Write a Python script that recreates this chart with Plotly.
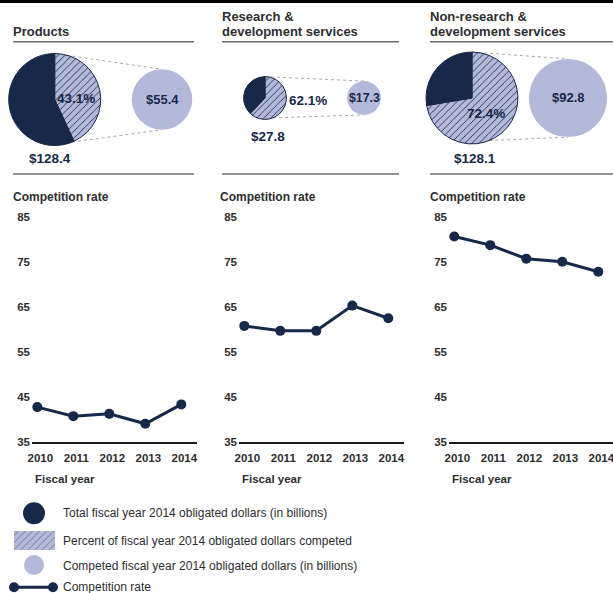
import math
import plotly.graph_objects as go

W, H = 613, 593

# ---- data -------------------------------------------------------------
panel_titles = [["Products"],
                ["Research &", "development services"],
                ["Non-research &", "development services"]]
total_obligated = [128.4, 27.8, 128.1]      # FY2014 obligated dollars, billions
competed_pct = [43.1, 62.1, 72.4]           # percent of obligated dollars competed
competed_dollars = [55.4, 17.3, 92.8]       # FY2014 competed dollars, billions

years = [2010, 2011, 2012, 2013, 2014]
rate_products = [42.8, 40.8, 41.3, 39.1, 43.4]
rate_rnd = [60.8, 59.7, 59.7, 65.3, 62.5]
rate_non_rnd = [80.6, 78.7, 75.7, 75.0, 72.8]
rates = [rate_products, rate_rnd, rate_non_rnd]
rate_ticks = [35, 45, 55, 65, 75, 85]

legend_labels = [
    "Total fiscal year 2014 obligated dollars (in billions)",
    "Percent of fiscal year 2014 obligated dollars competed",
    "Competed fiscal year 2014 obligated dollars (in billions)",
    "Competition rate",
]

# ---- styling ----------------------------------------------------------
NAVY = "#172848"
LAVENDER = "#b5b9d9"
TEXT = "#2e2e2e"
RULE = "#6e6e6e"
FONT = "Liberation Sans, Arial, sans-serif"


def fx(x):
    return x / W


def fy(y):
    return 1 - y / H


fig = go.Figure()

# ---- pies (areas scaled together through a shared scalegroup) ---------
R_MAX = 46
big_cx = [54.7, 265, 472]
small_cx = [162, 364, 568]
pie_cy = [99.5, 98, 98]


def pie_domain(cx, cy):
    hx = min(R_MAX, cx, W - cx)
    return dict(x=[fx(cx - hx), fx(cx + hx)], y=[fy(cy + R_MAX), fy(cy - R_MAX)])


for i in range(3):
    tot = total_obligated[i]
    pct = competed_pct[i]
    fig.add_trace(go.Pie(
        values=[tot * pct / 100, tot * (1 - pct / 100)],
        sort=False, direction="clockwise", rotation=0,
        scalegroup="dollars", textinfo="none", hoverinfo="skip",
        showlegend=False,
        marker=dict(colors=[LAVENDER, NAVY],
                    line=dict(color=NAVY, width=1),
                    pattern=dict(shape=["/", ""], fgcolor=NAVY,
                                 bgcolor=[LAVENDER, NAVY],
                                 size=5, solidity=0.17)),
        domain=pie_domain(big_cx[i], pie_cy[i]),
    ))
    fig.add_trace(go.Pie(
        values=[competed_dollars[i]],
        sort=False, scalegroup="dollars", textinfo="none", hoverinfo="skip",
        showlegend=False,
        marker=dict(colors=[LAVENDER], line=dict(width=0)),
        domain=pie_domain(small_cx[i], pie_cy[i]),
    ))

# connector lines between each pie and its competed-dollars circle
k = R_MAX / math.sqrt(max(total_obligated + competed_dollars))
shapes = []
for i in range(3):
    r1 = k * math.sqrt(total_obligated[i])
    r2 = k * math.sqrt(competed_dollars[i])
    cy = pie_cy[i]
    a = math.radians(22)
    for (x0, y0, x1, y1) in [
        (big_cx[i], cy - r1, small_cx[i], cy - r2),
        (big_cx[i] + r1 * math.sin(a), cy + r1 * math.cos(a), small_cx[i], cy + r2),
    ]:
        shapes.append(dict(type="line", xref="paper", yref="paper",
                           x0=fx(x0), y0=fy(y0), x1=fx(x1), y1=fy(y1),
                           line=dict(color="#a8a8a8", width=1, dash="3px,3px"),
                           layer="below"))

# ---- rules ------------------------------------------------------------
shapes.append(dict(type="rect", xref="paper", yref="paper",
                   x0=0, x1=1, y0=fy(3), y1=1, fillcolor="#000", line_width=0))
rule_x = [(13, 194), (222, 399), (430, 613)]
for (a0, a1) in rule_x:
    for yy in (41.7, 174):
        shapes.append(dict(type="line", xref="paper", yref="paper",
                           x0=fx(a0), x1=fx(a1), y0=fy(yy), y1=fy(yy),
                           line=dict(color=RULE, width=1.6)))

annotations = []


def note(text, x, y, size, color=TEXT, bold=True, xanchor="left", yanchor="middle"):
    annotations.append(dict(text=text, x=fx(x), y=fy(y), xref="paper", yref="paper",
                            xanchor=xanchor, yanchor=yanchor, showarrow=False,
                            align="left", borderpad=0, borderwidth=0,
                            font=dict(family=FONT, size=size, color=color,
                                      weight="bold" if bold else "normal")))


# panel titles, one annotation per line
title_left = [13, 222, 430]
for i, lines in enumerate(panel_titles):
    base = 31.5
    for j, line in enumerate(reversed(lines)):
        note(line, title_left[i], base - 15 * j, 13)

# pie labels
pct_pos = [(76, 98.3), (307.5, 100), (486, 113)]
tot_pos = [(50, 158), (268, 137), (474.5, 158)]
comp_size = [13, 12.3, 13]
for i in range(3):
    note(f"{competed_pct[i]:.1f}%", *pct_pos[i], 13.5, color=NAVY, xanchor="center")
    note(f"${total_obligated[i]:.1f}", *tot_pos[i], 13.5, color=NAVY, xanchor="center")
    note(f"${competed_dollars[i]:.1f}", small_cx[i], pie_cy[i], comp_size[i],
         color=NAVY, xanchor="center")

# ---- competition-rate line charts ------------------------------------
x_domains = [(32, 197), (239, 404), (449, 613)]
PX_PER_YEAR = 36
x_start = 2010 - 5.3 / PX_PER_YEAR
y_dom = [fy(442.3), fy(216.7)]

layout_axes = {}
for i in range(3):
    n = "" if i == 0 else str(i + 1)
    fig.add_trace(go.Scatter(
        x=years, y=rates[i], mode="lines+markers",
        line=dict(color=NAVY, width=3),
        marker=dict(color=NAVY, size=10),
        xaxis="x" + n, yaxis="y" + n, showlegend=False, hoverinfo="skip",
        cliponaxis=False,
    ))
    d0, d1 = x_domains[i]
    layout_axes["xaxis" + n] = dict(
        domain=[fx(d0), fx(d1)], anchor="y" + n,
        range=[x_start, x_start + (d1 - d0) / PX_PER_YEAR],
        tickvals=years, ticktext=[str(y) for y in years],
        showline=True, linecolor="#1a1a1a", linewidth=2,
        showgrid=False, zeroline=False, ticks="", automargin=False,
        ticklabelstandoff=4, ticklabelshift=3, ticklabeloverflow="allow",
        tickfont=dict(family=FONT, size=11.5, color=TEXT, weight="bold"),
    )
    layout_axes["yaxis" + n] = dict(
        domain=y_dom, anchor="x" + n, range=[35, 85],
        tickvals=rate_ticks, showline=False, showgrid=False,
        zeroline=False, ticks="", automargin=False, ticklabelstandoff=1,
        tickfont=dict(family=FONT, size=11.5, color=TEXT, weight="bold"),
    )
    note("Competition rate", d0 - 19, 196.7, 12)
    note("Fiscal year", d0 + 3, 479, 11.5)

# ---- key --------------------------------------------------------------
KEY = dict(xaxis="x4", yaxis="y4", showlegend=False, hoverinfo="skip", cliponaxis=False)
fig.add_trace(go.Scatter(x=[34], y=[513.3], mode="markers",
                         marker=dict(color=NAVY, size=22), **KEY))
fig.add_trace(go.Scatter(x=[14, 55, 55, 14, 14], y=[531, 531, 550, 550, 531],
                         mode="lines", fill="toself", fillcolor=LAVENDER,
                         fillpattern=dict(shape="/", fgcolor=NAVY, bgcolor=LAVENDER,
                                          size=5, solidity=0.17),
                         line=dict(width=0), **KEY))
fig.add_trace(go.Scatter(x=[34], y=[565], mode="markers",
                         marker=dict(color=LAVENDER, size=20), **KEY))
fig.add_trace(go.Scatter(x=[14, 53], y=[587.3, 587.3], mode="lines+markers",
                         line=dict(color=NAVY, width=3),
                         marker=dict(color=NAVY, size=10), **KEY))
layout_axes["xaxis4"] = dict(domain=[0, fx(400)], range=[0, 400], visible=False,
                             fixedrange=True, anchor="y4", automargin=False)
layout_axes["yaxis4"] = dict(domain=[0, fy(500)], range=[593, 500], visible=False,
                             fixedrange=True, anchor="x4", automargin=False)
for j, (lbl, yy) in enumerate(zip(legend_labels, [513, 541, 566, 587.3])):
    note(lbl, 63.3, yy, 12, bold=False)

fig.update_layout(
    width=W, height=H,
    margin=dict(l=0, r=0, t=0, b=0, pad=0, autoexpand=False),
    paper_bgcolor="white", plot_bgcolor="rgba(0,0,0,0)",
    shapes=shapes, annotations=annotations, showlegend=False,
    font=dict(family=FONT, color=TEXT),
    **layout_axes,
)

fig.write_html("out.html", config={"displayModeBar": False})
